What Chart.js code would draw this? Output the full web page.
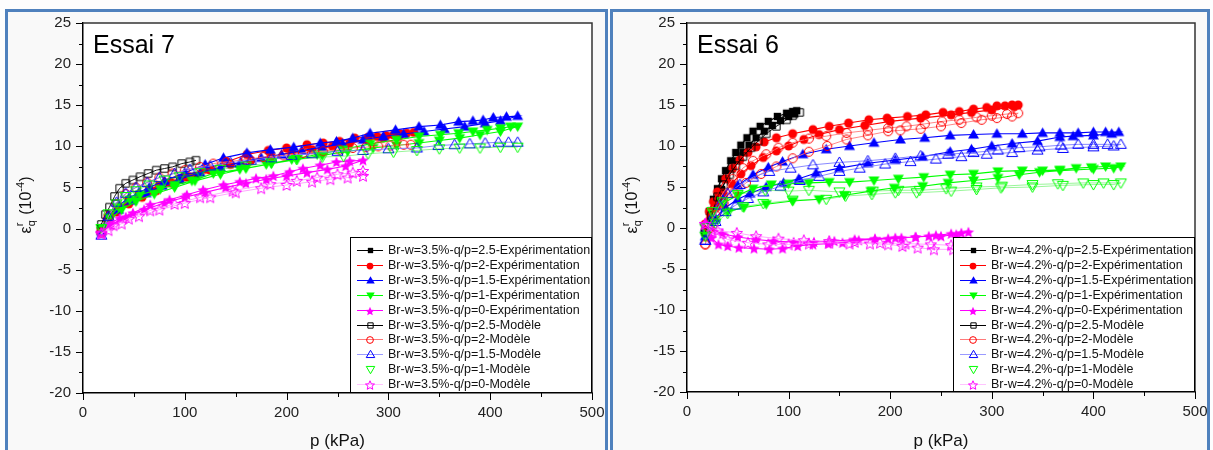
<!DOCTYPE html>
<html>
<head>
<meta charset="utf-8">
<script src="https://cdn.jsdelivr.net/npm/chart.js@4.4.1/dist/chart.umd.min.js"></script>
<style>
  body { margin: 0; width: 1213px; height: 450px; overflow: hidden; position: relative; background: #fdfdfd; }
  .panel { position: absolute; top: 9px; height: 470px; border: 3px solid #4f81bd; box-sizing: border-box; background: #f9f9f9; }
  #panel7 { left: 5px; width: 603px; }
  #panel6 { left: 610px; width: 600px; }
  canvas { position: absolute; top: 0; }
  #chart7 { left: 0; }
  #chart6 { left: 606px; }
</style>
</head>
<body>
<div class="panel" id="panel7"></div>
<div class="panel" id="panel6"></div>
<canvas id="chart7" width="606" height="450"></canvas>
<canvas id="chart6" width="607" height="450"></canvas>
<script>
/* Essai 7 : Br-w=3.5%  -- [p (kPa), eps_q^r (1e-4)] */
const e7Exp25 = [[18,0],[25,1.2],[35,2.5],[45,3.4],[55,4.1],[65,4.7],[75,5.2],[85,5.6],[95,5.9],[104,6.2],[111,6.4]];
const e7Exp20 = [[18,0],[25,1.2],[35,2.4],[45,3.3],[55,4.0],[65,4.6],[75,5.2],[85,5.6],[100,6.3],[120,7.2],[141,8.1],[161,9.0],[182,9.5],[200,9.8],[220,10.2],[236,10.4],[252,10.6],[267,11.0],[280,11.1],[289,11.2],[298,11.3],[305,11.4],[312,11.5],[318,11.6],[325,11.7],
  [310,11.2],[295,11.0],[280,10.8],[262,10.4],[245,10.0],[225,9.6],[205,9.2],[185,8.8],[165,8.3],[145,7.8],[125,7.1],[105,6.3],[88,5.5],[72,4.6],[58,3.8],[45,3.0],[33,2.0],[24,1.0],[18,0]];
const e7Exp15 = [[18,0],[25,1.5],[35,2.8],[45,3.7],[55,4.4],[65,5.0],[80,5.8],[100,6.8],[120,7.8],[138,8.6],[161,9.2],[184,9.6],[207,9.9],[233,10.4],[249,10.6],[265,11.0],[282,11.6],[307,12.0],[330,12.4],[351,12.6],[369,13.0],[383,13.1],[393,13.2],[403,13.5],[416,13.6],[427,13.7],
  [410,13.1],[395,12.8],[375,12.4],[355,12.1],[335,11.8],[315,11.5],[295,11.2],[275,10.8],[255,10.3],[235,9.9],[215,9.5],[195,9.0],[175,8.6],[155,8.1],[135,7.4],[115,6.8],[95,6.0],[78,5.2],[62,4.3],[48,3.4],[35,2.3],[25,1.0],[18,-0.3]];
const e7Exp10 = [[18,0],[25,1.3],[35,2.6],[46,3.5],[56,4.1],[76,4.8],[90,5.3],[107,5.8],[128,6.7],[154,7.2],[180,7.8],[205,8.4],[230,9.0],[255,9.6],[282,10.3],[308,10.8],[330,11.2],[351,11.4],[369,11.6],[383,11.8],[397,12.0],[410,12.2],[420,12.4],[427,12.4],
  [410,11.8],[390,11.4],[370,11.0],[350,10.7],[330,10.4],[308,10.1],[285,9.8],[260,9.4],[235,8.9],[210,8.4],[185,7.9],[160,7.3],[135,6.6],[110,5.8],[90,5.0],[70,4.2],[52,3.3],[38,2.3],[27,1.2],[18,-0.3]];
const e7Exp00 = [[18,-0.4],[26,0.6],[36,1.25],[49,1.9],[66,2.9],[85,3.5],[102,4.1],[118,4.7],[138,5.3],[154,5.7],[170,6.1],[187,6.4],[203,6.9],[216,7.3],[233,7.7],[249,8.1],[262,8.2],[275,8.3],
  [258,7.6],[240,7.2],[220,6.8],[200,6.4],[180,6.0],[160,5.5],[140,5.0],[120,4.4],[100,3.8],[80,3.1],[60,2.3],[42,1.4],[28,0.5],[18,-0.5]];

const e7Mod25 = [[18,0.5],[22,1.7],[26,2.6],[31,3.9],[36,4.9],[42,5.5],[49,5.9],[56,6.3],[64,6.7],[72,7.1],[80,7.3],[88,7.5],[97,7.9],[105,8.1],[111,8.3]];
const e7Mod20 = [[18,-0.5],[25,1.5],[33,3.0],[42,4.2],[52,5.0],[63,5.6],[75,6.2],[88,6.7],[100,7.1],[115,7.5],[128,7.9],[141,8.1],[160,8.4],[177,8.7],[197,8.9],[216,9.2],[236,9.4],[252,9.6],[265,9.8],[278,9.9],[290,10.0],[302,10.1],[315,10.2],[322,10.2]];
const e7Mod15 = [[18,-0.8],[25,1.5],[33,3.2],[42,4.3],[52,5.0],[63,5.6],[75,6.2],[90,6.7],[105,7.2],[125,7.6],[145,8.0],[165,8.3],[185,8.6],[205,8.9],[225,9.1],[250,9.4],[275,9.5],[300,9.7],[328,9.8],[349,10.1],[365,10.2],[380,10.3],[395,10.4],[408,10.5],[418,10.5],[427,10.5]];
const e7Mod10 = [[18,0],[25,1.8],[33,3.0],[42,3.9],[52,4.6],[65,5.3],[80,5.9],[95,6.3],[115,6.8],[135,7.2],[160,7.6],[185,8.0],[210,8.4],[235,8.7],[256,8.8],[280,9.1],[305,9.3],[328,9.5],[350,9.7],[370,9.8],[390,9.8],[410,9.9],[427,9.9]];
const e7Mod00 = [[18,-0.6],[30,0.4],[45,1.2],[66,2.2],[90,3.0],[115,3.8],[147,4.6],[184,5.4],[210,5.8],[230,6.2],[250,6.6],[265,6.8],[275,7.0],
  [275,6.4],[260,6.2],[243,6.0],[225,5.7],[200,5.3],[175,4.9],[150,4.4],[125,3.8],[100,3.1],[75,2.3],[55,1.5],[38,0.6],[25,-0.2],[18,-0.6]];

/* Essai 6 : Br-w=4.2% */
const e6Exp25 = [[18,0],[22,2.0],[26,3.5],[30,4.8],[34,6.0],[38,7.0],[43,8.2],[48,9.2],[53,10.1],[59,11.0],[65,11.8],[72,12.4],[80,13.0],[89,13.6],[98,14.0],[104,14.2],[108,14.3],
  [106,13.9],[100,13.6],[92,13.1],[84,12.5],[76,11.8],[68,11.0],[61,10.1],[55,9.2],[49,8.2],[44,7.2],[39,6.0],[34,4.7],[29,3.2],[24,1.8],[19,0.4]];
const e6Exp20 = [[18,0.5],[22,2.0],[26,3.2],[30,4.4],[38,6.0],[45,7.3],[52,8.3],[60,9.2],[68,9.9],[76,10.5],[88,11.0],[104,11.5],[124,12.0],[140,12.4],[159,12.8],[179,13.2],[197,13.4],[217,13.6],[235,13.8],[252,14.1],[268,14.2],[282,14.5],[295,14.7],[305,14.9],[313,14.9],[320,15.0],[326,15.0],
  [322,14.8],[300,14.4],[280,14.1],[260,13.8],[230,13.4],[200,13.0],[175,12.5],[150,12.0],[130,11.4],[115,10.8],[100,10.0],[88,9.4],[75,8.6],[63,7.6],[53,6.6],[44,5.4],[36,4.0],[29,2.6],[23,1.2],[18,-0.3]];
const e6Exp15 = [[18,0],[25,1.5],[35,3.5],[50,5.2],[65,6.5],[80,7.4],[94,8.1],[114,9.0],[137,9.6],[160,10.0],[184,10.4],[210,10.8],[234,11.0],[259,11.3],[282,11.4],[305,11.5],[330,11.5],[350,11.6],[367,11.6],[385,11.6],[400,11.7],[412,11.7],[425,11.7],
  [418,11.5],[400,11.3],[380,11.2],[367,11.1],[345,10.6],[320,10.3],[300,10.0],[280,9.6],[259,9.3],[232,8.7],[205,8.3],[178,7.9],[150,7.3],[127,6.7],[110,6.0],[95,5.5],[78,5.0],[62,4.2],[50,3.5],[38,2.5],[28,1.2],[18,-1.0]];
const e6Exp10 = [[18,0],[25,1.8],[35,3.0],[50,4.0],[65,4.8],[83,5.3],[100,5.4],[120,5.5],[140,5.6],[160,5.6],[184,5.8],[208,6.0],[233,6.2],[259,6.5],[282,6.6],[306,6.9],[330,7.0],[350,7.0],[367,7.1],[383,7.3],[398,7.4],[412,7.5],[427,7.5],
  [420,7.3],[400,7.2],[367,7.0],[347,6.8],[327,6.5],[306,6.1],[282,5.8],[257,5.5],[232,5.1],[204,4.9],[181,4.5],[155,4.0],[130,3.5],[104,3.3],[78,2.9],[56,2.5],[40,2.0],[28,1.0],[18,-1.0]];
const e6Exp00 = [[18,0.5],[25,-0.2],[35,-0.7],[50,-1.1],[68,-1.4],[85,-1.6],[105,-1.7],[125,-1.7],[145,-1.6],[165,-1.4],[185,-1.3],[205,-1.2],[225,-1.1],[245,-0.9],[260,-0.7],[270,-0.6],[277,-0.5],
  [265,-0.8],[250,-1.0],[238,-1.0],[225,-1.1],[211,-1.2],[198,-1.3],[185,-1.4],[169,-1.5],[153,-1.8],[139,-1.9],[124,-2.0],[109,-2.2],[94,-2.5],[81,-2.6],[66,-2.5],[51,-2.4],[40,-2.2],[31,-2.0],[24,-1.2],[18,0.3]];

const e6Mod25 = [[18,-0.5],[24,1.5],[30,3.8],[36,5.3],[42,6.5],[48,7.6],[55,8.7],[63,9.8],[70,10.6],[78,11.5],[88,12.4],[98,13.2],[104,13.7],[111,14.1]];
const e6Mod20 = [[18,-2.0],[22,0],[28,2.5],[35,4.2],[45,6.0],[55,7.3],[65,8.2],[78,9.0],[90,9.8],[104,10.4],[120,10.9],[137,11.2],[157,11.6],[178,11.9],[198,12.2],[216,12.4],[234,12.7],[251,13.0],[268,13.2],[285,13.5],[300,13.7],[315,13.9],[326,14.0],
  [320,13.6],[305,13.4],[290,13.2],[270,12.8],[250,12.4],[230,12.1],[210,11.9],[198,11.8],[178,11.3],[157,10.8],[138,10.0],[120,9.3],[104,8.5],[88,7.5],[73,6.6],[58,5.5],[46,4.3],[36,3.0],[28,1.6],[22,0],[18,-2.0]];
const e6Mod15 = [[18,-1.5],[25,1.0],[32,2.8],[40,4.2],[52,5.3],[65,6.2],[81,6.9],[102,7.3],[124,7.7],[150,8.0],[178,8.2],[205,8.5],[230,8.8],[257,9.0],[282,9.2],[306,9.5],[327,9.8],[347,9.9],[368,10.1],[385,10.2],[400,10.2],[414,10.2],[427,10.2],
  [420,10.0],[400,9.9],[370,9.7],[345,9.5],[320,9.2],[295,9.0],[270,8.7],[245,8.4],[220,8.1],[195,7.8],[170,7.3],[150,6.9],[130,6.3],[111,5.8],[92,5.1],[75,4.4],[60,3.6],[48,2.8],[38,2.0],[28,0.8],[18,-1.5]];
const e6Mod10 = [[18,0],[25,2.0],[35,3.2],[50,4.1],[77,4.6],[100,4.5],[120,4.6],[150,4.4],[183,4.5],[208,4.6],[229,4.6],[255,4.8],[285,5.0],[310,5.1],[340,5.3],[365,5.4],[390,5.5],[410,5.5],[427,5.5],
  [420,5.3],[400,5.3],[370,5.2],[340,5.0],[309,4.9],[285,4.7],[260,4.5],[226,4.3],[205,4.3],[182,4.1],[156,3.9],[137,3.5],[104,3.4],[75,3.0],[55,2.6],[40,1.8],[28,0.6],[18,-1.0]];
const e6Mod00 = [[18,0.5],[30,-0.3],[49,-0.6],[68,-1.0],[90,-1.3],[115,-1.5],[140,-1.6],[165,-1.7],[190,-1.8],[215,-1.9],[240,-2.0],[260,-2.1],[277,-2.2],
  [277,-2.7],[262,-2.6],[243,-2.6],[227,-2.4],[212,-2.2],[198,-2.0],[180,-1.9],[160,-1.9],[140,-1.8],[120,-1.9],[100,-2.0],[80,-2.0],[60,-1.8],[40,-1.4],[25,-0.5],[18,0.5]];

const labels7 = [
  'Br-w=3.5%-q/p=2.5-Expérimentation', 'Br-w=3.5%-q/p=2-Expérimentation', 'Br-w=3.5%-q/p=1.5-Expérimentation',
  'Br-w=3.5%-q/p=1-Expérimentation', 'Br-w=3.5%-q/p=0-Expérimentation',
  'Br-w=3.5%-q/p=2.5-Modèle', 'Br-w=3.5%-q/p=2-Modèle', 'Br-w=3.5%-q/p=1.5-Modèle',
  'Br-w=3.5%-q/p=1-Modèle', 'Br-w=3.5%-q/p=0-Modèle'
];
const labels6 = [
  'Br-w=4.2%-q/p=2.5-Expérimentation', 'Br-w=4.2%-q/p=2-Expérimentation', 'Br-w=4.2%-q/p=1.5-Expérimentation',
  'Br-w=4.2%-q/p=1-Expérimentation', 'Br-w=4.2%-q/p=0-Expérimentation',
  'Br-w=4.2%-q/p=2.5-Modèle', 'Br-w=4.2%-q/p=2-Modèle', 'Br-w=4.2%-q/p=1.5-Modèle',
  'Br-w=4.2%-q/p=1-Modèle', 'Br-w=4.2%-q/p=0-Modèle'
];

const FONT = '"Liberation Sans", Arial, sans-serif';
const colors = ['#000000', '#ff0000', '#0000ff', '#00ff00', '#ff00ff'];
const modelLine = ['#000000', '#ff7a7a', '#7a7aff', 'rgba(0,230,0,0.45)', '#ff9cff'];
const modelLegendLine = ['#000000', '#ff7a7a', '#9a9aff', null, '#ffc4ff'];
const shapes = ['square', 'circle', 'triangle', 'triangleDown', 'star'];
const plotSize = [9, 10, 11, 11, 12];
const legendSize = [6.5, 7.5, 8.5, 8.5, 9.5];

// marker sprites, filled for the tests and hollow for the model
function makeMarker(shape, size, color, filled) {
  const c = document.createElement('canvas');
  c.width = c.height = Math.ceil(size) + 4;
  const ctx = c.getContext('2d');
  const m = c.width / 2, r = size / 2;
  ctx.beginPath();
  if (shape === 'square') {
    ctx.rect(m - r * 0.82, m - r * 0.82, r * 1.64, r * 1.64);
  } else if (shape === 'circle') {
    ctx.arc(m, m, r * 0.9, 0, Math.PI * 2);
  } else if (shape === 'triangle') {
    ctx.moveTo(m, m - r); ctx.lineTo(m + r, m + r * 0.72); ctx.lineTo(m - r, m + r * 0.72); ctx.closePath();
  } else if (shape === 'triangleDown') {
    ctx.moveTo(m, m + r); ctx.lineTo(m + r, m - r * 0.72); ctx.lineTo(m - r, m - r * 0.72); ctx.closePath();
  } else {
    for (let i = 0; i < 10; i++) {
      const ang = -Math.PI / 2 + i * Math.PI / 5;
      const rad = i % 2 ? r * 0.45 : r;
      const px = m + rad * Math.cos(ang), py = m + 0.5 + rad * Math.sin(ang);
      i ? ctx.lineTo(px, py) : ctx.moveTo(px, py);
    }
    ctx.closePath();
  }
  if (filled) {
    ctx.fillStyle = color; ctx.fill();
  } else {
    ctx.strokeStyle = color; ctx.lineWidth = 1; ctx.stroke();
  }
  return c;
}

const expMarks = shapes.map((s, i) => makeMarker(s, plotSize[i], colors[i], true));
const modMarks = shapes.map((s, i) => makeMarker(s, plotSize[i], colors[i], false));
const expLegMarks = shapes.map((s, i) => makeMarker(s, legendSize[i], colors[i], true));
const modLegMarks = shapes.map((s, i) => makeMarker(s, legendSize[i], colors[i], false));

function toXY(pts) { return pts.map(([p, e]) => ({ x: p, y: e })); }

function buildDatasets(exp, mod, labels) {
  const sets = [];
  exp.forEach((pts, i) => sets.push({
    label: labels[i], data: toXY(pts), borderColor: colors[i], borderWidth: 1.1,
    pointStyle: expMarks[i], pointRadius: 5, order: 10 - i
  }));
  mod.forEach((pts, i) => sets.push({
    label: labels[i + 5], data: toXY(pts), borderColor: modelLine[i], borderWidth: 0.9,
    pointStyle: modMarks[i], pointRadius: 5, order: 5 - i
  }));
  return sets;
}

// frame, Origin-style ticks, axis titles, panel label and boxed legend
function framePlugin(title, labels) {
  return {
    id: 'originFrame',
    beforeDraw(chart) {
      const { ctx, chartArea: a } = chart;
      ctx.save();
      ctx.fillStyle = '#ffffff';
      ctx.fillRect(a.left, a.top, a.right - a.left, a.bottom - a.top);
      ctx.restore();
    },
    afterDraw(chart) {
      const { ctx, chartArea: a, scales: { x, y } } = chart;
      ctx.save();
      // top and right frame
      ctx.strokeStyle = '#333';
      ctx.lineWidth = 1.5;
      ctx.beginPath();
      ctx.moveTo(a.left, a.top); ctx.lineTo(a.right, a.top); ctx.lineTo(a.right, a.bottom);
      ctx.stroke();

      // outward ticks
      ctx.strokeStyle = '#000';
      ctx.lineWidth = 1;
      ctx.beginPath();
      for (let v = -20; v <= 25; v += 2.5) {
        const py = Math.round(y.getPixelForValue(v)) + 0.5;
        const len = v % 5 === 0 ? 7 : 4;
        ctx.moveTo(a.left - len, py); ctx.lineTo(a.left, py);
      }
      for (let v = 0; v <= 500; v += 50) {
        const px = Math.round(x.getPixelForValue(v)) + 0.5;
        const len = v % 100 === 0 ? 7 : 4;
        ctx.moveTo(px, a.bottom); ctx.lineTo(px, a.bottom + len);
      }
      ctx.stroke();

      // x title
      ctx.fillStyle = '#111';
      ctx.font = '17px ' + FONT;
      ctx.textAlign = 'center';
      ctx.textBaseline = 'alphabetic';
      ctx.fillText('p (kPa)', (a.left + a.right) / 2, 446);

      // y title: eps_q^r (10^-4)
      const big = '16px ' + FONT, small = '11px ' + FONT;
      ctx.translate(31, 205);
      ctx.rotate(-Math.PI / 2);
      ctx.textAlign = 'left';
      const w = (t, f) => { ctx.font = f; return ctx.measureText(t).width; };
      const wE = w('ε', big), wS = Math.max(w('q', small), w('r', small));
      const wM = w(' (10', big), w4 = w('-4', small), wC = w(')', big);
      let tx = -(wE + wS + 1 + wM + w4 + wC) / 2;
      ctx.font = big; ctx.fillText('ε', tx, 0); tx += wE;
      ctx.font = small; ctx.fillText('q', tx, 4); ctx.fillText('r', tx, -8); tx += wS + 1;
      ctx.font = big; ctx.fillText(' (10', tx, 0); tx += wM;
      ctx.font = small; ctx.fillText('-4', tx, -7); tx += w4;
      ctx.font = big; ctx.fillText(')', tx, 0);
      ctx.setTransform(1, 0, 0, 1, 0, 0);

      // panel label
      ctx.fillStyle = '#000';
      ctx.font = '25px ' + FONT;
      ctx.textAlign = 'left';
      ctx.fillText(title, a.left + 10, 53);

      // legend box
      const bl = a.right - 242, bt = 237;
      ctx.fillStyle = '#ffffff';
      ctx.fillRect(bl, bt, a.right - bl, a.bottom - bt);
      ctx.strokeStyle = '#000';
      ctx.lineWidth = 1;
      ctx.strokeRect(bl + 0.5, bt + 0.5, a.right - bl - 1, a.bottom - bt - 1);
      ctx.font = '12.5px ' + FONT;
      ctx.textBaseline = 'middle';
      labels.forEach((lab, i) => {
        const ry = Math.round(250 + i * 14.9) + 0.5;
        const k = i % 5, model = i >= 5;
        const lc = model ? modelLegendLine[k] : colors[k];
        if (lc) {
          ctx.strokeStyle = lc;
          ctx.lineWidth = 1;
          ctx.beginPath(); ctx.moveTo(bl + 7, ry); ctx.lineTo(bl + 33, ry); ctx.stroke();
        }
        const img = model ? modLegMarks[k] : expLegMarks[k];
        ctx.drawImage(img, Math.round(bl + 20 - img.width / 2), Math.round(ry - img.height / 2));
        ctx.fillStyle = '#111';
        ctx.fillText(lab, bl + 38, ry);
      });
      ctx.restore();
    }
  };
}

function makeChart(id, title, exp, mod, labels, padRight, xAxisH, yAxisW) {
  return new Chart(document.getElementById(id), {
    type: 'line',
    data: { datasets: buildDatasets(exp, mod, labels) },
    options: {
      responsive: false,
      animation: false,
      events: [],
      layout: { padding: { left: 0, top: 23, right: padRight, bottom: 0 } },
      elements: { line: { tension: 0 } },
      plugins: { legend: { display: false }, tooltip: { enabled: false } },
      scales: {
        x: {
          type: 'linear', position: 'bottom', min: 0, max: 500,
          ticks: { stepSize: 100, padding: 11, maxRotation: 0, color: '#222', font: { family: FONT, size: 15 } },
          grid: { display: true, drawOnChartArea: false, drawTicks: false },
          border: { display: true, color: '#000', width: 1.5 },
          afterFit(s) { s.height = xAxisH; s.paddingLeft = 0; s.paddingRight = 0; }
        },
        y: {
          type: 'linear', position: 'left', min: -20, max: 25,
          ticks: { stepSize: 5, padding: 12, color: '#222', font: { family: FONT, size: 15 } },
          grid: { display: true, drawOnChartArea: false, drawTicks: false },
          border: { display: true, color: '#000', width: 1.5 },
          afterFit(s) { s.width = yAxisW; s.paddingTop = 0; s.paddingBottom = 0; }
        }
      }
    },
    plugins: [framePlugin(title, labels)]
  });
}

const chart7 = makeChart('chart7', 'Essai 7',
  [e7Exp25, e7Exp20, e7Exp15, e7Exp10, e7Exp00],
  [e7Mod25, e7Mod20, e7Mod15, e7Mod10, e7Mod00],
  labels7, 14, 57, 83);

const chart6 = makeChart('chart6', 'Essai 6',
  [e6Exp25, e6Exp20, e6Exp15, e6Exp10, e6Exp00],
  [e6Mod25, e6Mod20, e6Mod15, e6Mod10, e6Mod00],
  labels6, 18, 58, 81);
</script>
</body>
</html>
